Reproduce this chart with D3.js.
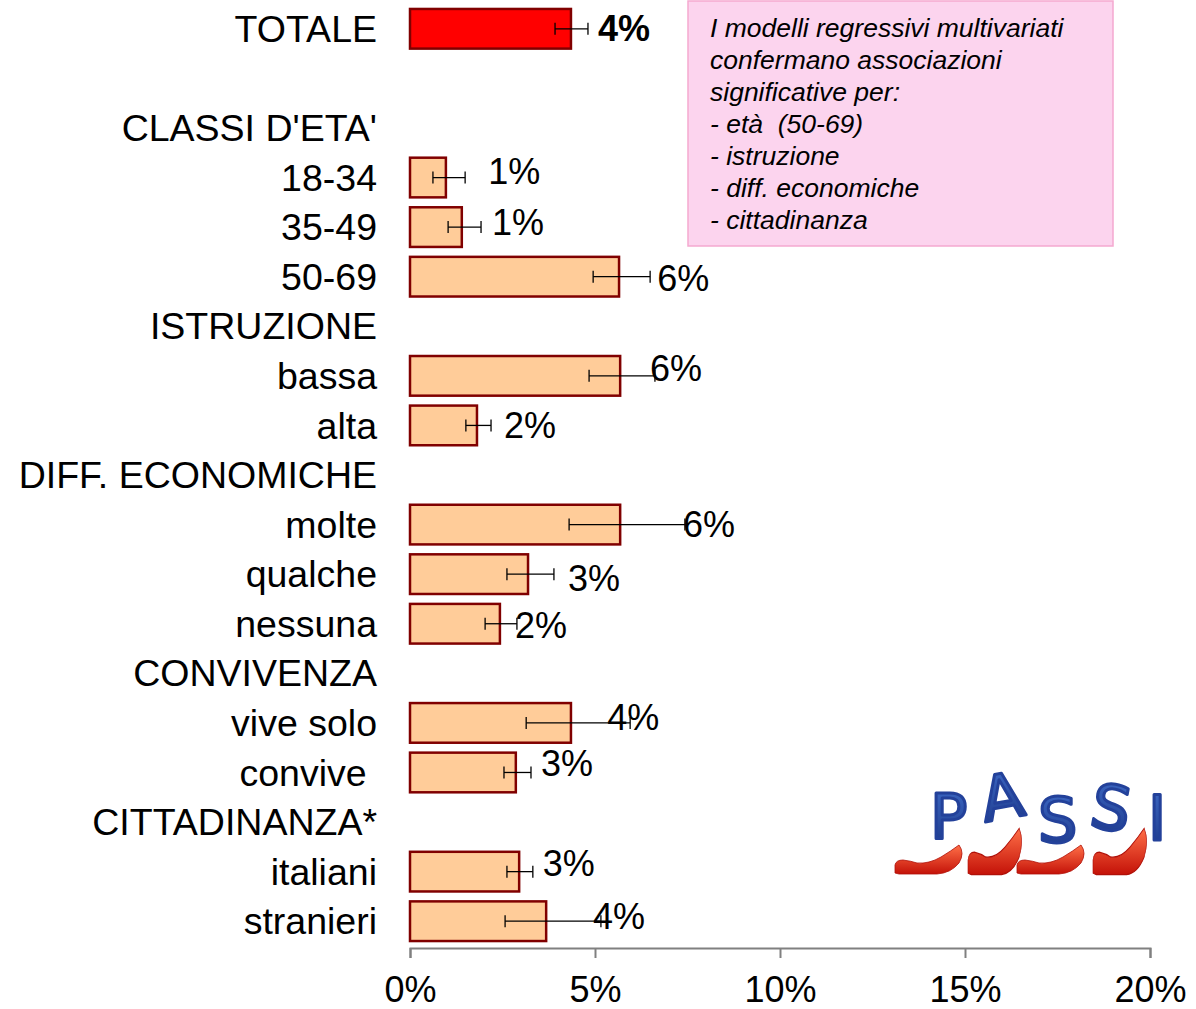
<!DOCTYPE html>
<html lang="it">
  <head>
    <meta charset="UTF-8" />
    <title>PASSI - prevalenza per sottogruppi</title>
    <script src="https://d3js.org/d3.v7.min.js"></script>
    <style>
      body {
        margin: 0;
        background: #fff;
      }
      text {
        font-family: "Liberation Sans", Arial, sans-serif;
      }
      .cat {
        font-size: 37.5px;
        white-space: pre;
      }
      .lbl {
        font-size: 36px;
      }
      .axis text {
        font-size: 36px;
        fill: #000;
      }
      .axis path,
      .axis line {
        stroke: #808080;
        stroke-width: 2px;
      }
      .note {
        font-size: 26.5px;
        font-style: italic;
        white-space: pre;
      }
    </style>
  </head>
  <body>
    <svg width="1196" height="1009"></svg>

    <script>
      // rows of the chart, top to bottom ("" = empty spacer row)
      var categories = [
        "TOTALE", "",
        "CLASSI D'ETA'", "18-34", "35-49", "50-69",
        "ISTRUZIONE", "bassa", "alta",
        "DIFF. ECONOMICHE", "molte", "qualche", "nessuna",
        "CONVIVENZA", "vive solo", "convive ",
        "CITTADINANZA*", "italiani", "stranieri"
      ];

      // prevalence (%) and 95% CI; null = header row without bar
      var values = [4.35, null, null, 0.97, 1.4, 5.65, null, 5.68, 1.81, null, 5.68, 3.19, 2.43, null, 4.35, 2.86, null, 2.95, 3.68];
      var lower  = [3.92, null, null, 0.62, 1.03, 4.95, null, 4.84, 1.51, null, 4.3, 2.62, 2.03, null, 3.14, 2.54, null, 2.62, 2.57];
      var upper  = [4.81, null, null, 1.49, 1.92, 6.49, null, 6.62, 2.19, null, 7.43, 3.89, 2.89, null, 5.95, 3.27, null, 3.32, 5.16];

      var xTicks = [0, 5, 10, 15, 20];

      var noteLines = [
        "I modelli regressivi multivariati",
        "confermano associazioni",
        "significative per:",
        "- età  (50-69)",
        "- istruzione",
        "- diff. economiche",
        "- cittadinanza"
      ];

      // hand-placed data labels (px offset from the CI upper end), like in the original sheet
      var labelDx = [10, 0, 0, 23, 11, 7, 0, -5, 13, 0, -2, 14, -2, 0, -23, 10, 0, 10, -8];
      var labelDy = [0, 0, 0, -6, -5, 2, 0, -7, 0, 0, 0, 4, 2, 0, -5, -9, 0, -8, -5];

      var svg = d3.select("svg");

      var rows = categories.map(function (c, i) {
        return { i: i, name: c, v: values[i], lo: lower[i], hi: upper[i] };
      });

      var x = d3.scaleLinear().domain([0, 20]).range([410, 1150]);
      var y = d3.scaleBand()
        .domain(rows.map(function (d) { return d.i; }))
        .range([4, 946])
        .paddingInner(0.2)
        .paddingOuter(0.1);

      var fmt = d3.format(".0%");

      // note box
      svg.append("rect")
        .attr("x", 688).attr("y", 1)
        .attr("width", 425).attr("height", 245)
        .attr("fill", "#fcd4ee")
        .attr("stroke", "#f5a9d0")
        .attr("stroke-width", 1.5);

      svg.append("g").selectAll("text")
        .data(noteLines)
        .enter().append("text")
        .attr("class", "note")
        .attr("x", 710)
        .attr("y", function (d, i) { return 37 + i * 32; })
        .text(function (d) { return d; });

      // category labels
      svg.append("g").selectAll("text")
        .data(rows)
        .enter().append("text")
        .attr("class", "cat")
        .attr("x", 377)
        .attr("y", function (d) { return y(d.i) + y.bandwidth() / 2; })
        .attr("dy", "0.35em")
        .attr("text-anchor", "end")
        .text(function (d) { return d.name; });

      var data = rows.filter(function (d) { return d.v != null; });

      // bars
      svg.append("g").selectAll("rect")
        .data(data)
        .enter().append("rect")
        .attr("x", x(0))
        .attr("y", function (d) { return y(d.i); })
        .attr("width", function (d) { return x(d.v) - x(0); })
        .attr("height", y.bandwidth())
        .attr("fill", function (d) { return d.i === 0 ? "#ff0000" : "#ffcc99"; })
        .attr("stroke", "#800000")
        .attr("stroke-width", 2.5);

      // error bars
      var eb = svg.append("g").attr("stroke", "#000").attr("stroke-width", 1.3);
      data.forEach(function (d) {
        var cy = y(d.i) + y.bandwidth() / 2;
        eb.append("line").attr("x1", x(d.lo)).attr("x2", x(d.hi)).attr("y1", cy).attr("y2", cy);
        eb.append("line").attr("x1", x(d.lo)).attr("x2", x(d.lo)).attr("y1", cy - 6).attr("y2", cy + 6);
        eb.append("line").attr("x1", x(d.hi)).attr("x2", x(d.hi)).attr("y1", cy - 6).attr("y2", cy + 6);
      });

      // value labels
      svg.append("g").selectAll("text")
        .data(data)
        .enter().append("text")
        .attr("class", "lbl")
        .attr("x", function (d) { return x(d.hi) + labelDx[d.i]; })
        .attr("y", function (d) { return y(d.i) + y.bandwidth() / 2 + labelDy[d.i]; })
        .attr("dy", "0.35em")
        .style("font-weight", function (d) { return d.i === 0 ? "bold" : "normal"; })
        .text(function (d) { return fmt(Math.round(d.v) / 100); });

      // x axis
      var axis = svg.append("g")
        .attr("class", "axis")
        .attr("transform", "translate(0,948)")
        .call(d3.axisBottom(x).tickValues(xTicks).tickSize(10).tickSizeOuter(10)
          .tickFormat(function (d) { return d + "%"; }));
      axis.selectAll("text").attr("y", 28);

      // PASSI logo
      var defs = svg.append("defs");
      var gb = defs.append("linearGradient").attr("id", "blue").attr("x1", 0).attr("y1", 0).attr("x2", 0).attr("y2", 1);
      gb.append("stop").attr("offset", "0%").attr("stop-color", "#3f6cc8");
      gb.append("stop").attr("offset", "100%").attr("stop-color", "#1a3585");
      var gr = defs.append("linearGradient").attr("id", "red").attr("x1", 0).attr("y1", 0).attr("x2", 0).attr("y2", 1);
      gr.append("stop").attr("offset", "0%").attr("stop-color", "#ff7048");
      gr.append("stop").attr("offset", "100%").attr("stop-color", "#c41208");

      var logo = svg.append("g").attr("transform", "translate(890,770)");

      var letters = [
        { c: "P", x: 40, y: 68, r: 0 },
        { c: "A", x: 95, y: 52, r: -10 },
        { c: "S", x: 148, y: 72, r: 0 },
        { c: "S", x: 198, y: 56, r: 10 },
        { c: "I", x: 258, y: 70, r: 0 }
      ];
      logo.selectAll("text.lg")
        .data(letters)
        .enter().append("text")
        .attr("class", "lg")
        .attr("transform", function (d) { return "translate(" + d.x + "," + d.y + ") rotate(" + d.r + ")"; })
        .style("font-family", "'DejaVu Sans', sans-serif")
        .style("font-size", "62px")
        .attr("fill", "url(#blue)")
        .attr("stroke", "#23419a")
        .attr("stroke-width", 3)
        .attr("stroke-linejoin", "round")
        .text(function (d) { return d.c; });

      // slipper: origin at bottom-left heel, toe pointing up-right
      var shoe = "M0,0 L0,-8 Q1,-13 8,-13 Q16,-12 22,-10 Q34,-9 46,-16 Q56,-22 64,-28 Q70,-20 64,-10 Q56,0 42,1 L4,1 Z";
      var shoes = [
        { x: 5, sx: 1.0, sy: 1.0 },
        { x: 78, sx: 0.8, sy: 1.6 },
        { x: 127, sx: 1.0, sy: 1.0 },
        { x: 203, sx: 0.8, sy: 1.6 }
      ];
      logo.selectAll("path.shoe")
        .data(shoes)
        .enter().append("path")
        .attr("class", "shoe")
        .attr("d", shoe)
        .attr("transform", function (d) { return "translate(" + d.x + ",103) scale(" + d.sx + "," + d.sy + ")"; })
        .attr("fill", "url(#red)")
        .attr("stroke", "#b01008")
        .attr("stroke-width", 0.8);
    </script>
  </body>
</html>
